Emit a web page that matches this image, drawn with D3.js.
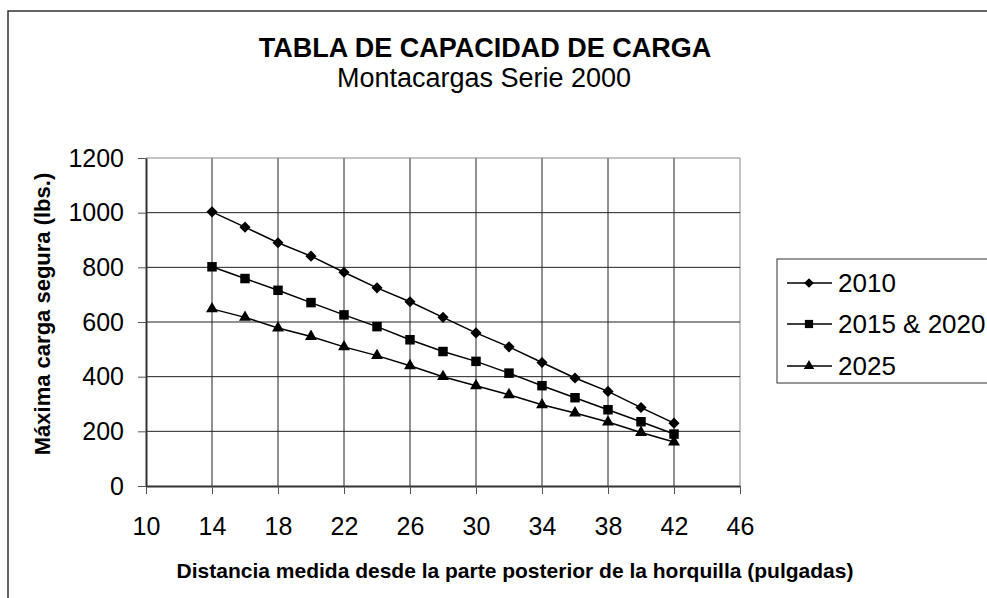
<!doctype html>
<html lang="es">
    <head>
        <meta charset="utf-8">
        <title>Tabla de capacidad de carga</title>
        <script src="https://cdn.jsdelivr.net/npm/d3@7"></script>
        <style>
            body { margin: 0; background: #fff; }
            text { font-family: "Liberation Sans", Arial, sans-serif; fill: #000; }
        </style>
    </head>
    <body>
        <div id="chart"></div>

        <script type="text/javascript">

            // distancias (pulgadas)
            var distancias = [14, 16, 18, 20, 22, 24, 26, 28, 30, 32, 34, 36, 38, 40, 42];

            // carga maxima por modelo (lbs.)
            var carga2010 = [1003, 947, 890, 841, 782, 725, 674, 617, 560, 509, 452, 395, 346, 287, 230];
            var carga2015 = [802, 759, 716, 671, 626, 583, 535, 492, 456, 413, 367, 323, 279, 235, 190];
            var carga2025 = [648, 617, 578, 547, 509, 477, 440, 400, 367, 334, 297, 267, 234, 196, 161];

            var seriesNames = ["2010", "2015 & 2020", "2025"];
            var xTicks = [10, 14, 18, 22, 26, 30, 34, 38, 42, 46];
            var yTicks = [0, 200, 400, 600, 800, 1000, 1200];

            // d3 diamond is too narrow, a square turned 45 deg looks like the original
            var series = [
                { name: seriesNames[0], values: carga2010, symbol: d3.symbolSquare, size: 62, rot: 45 },
                { name: seriesNames[1], values: carga2015, symbol: d3.symbolSquare, size: 90, rot: 0 },
                { name: seriesNames[2], values: carga2025, symbol: d3.symbolTriangle, size: 62, rot: 0 }
            ];

            var width = 987, height = 598;
            var plot = { left: 146, right: 740, top: 158, bottom: 486 };

            var svg = d3.select("#chart").append("svg")
                .attr("width", width)
                .attr("height", height);

            svg.append("rect")
                .attr("width", width).attr("height", height)
                .attr("fill", "#fff");

            // borde exterior
            svg.append("rect")
                .attr("x", 8).attr("y", 11)
                .attr("width", 990).attr("height", 600)
                .attr("fill", "none")
                .attr("stroke", "#333")
                .attr("stroke-width", 1.5);

            var x = d3.scaleLinear().domain([10, 46]).range([plot.left, plot.right]);
            var y = d3.scaleLinear().domain([0, 1200]).range([plot.bottom, plot.top]);

            // grid
            svg.append("g")
                .selectAll("line")
                .data(xTicks.slice(1))
                .enter().append("line")
                .attr("x1", function(d) { return x(d); })
                .attr("x2", function(d) { return x(d); })
                .attr("y1", plot.top).attr("y2", plot.bottom)
                .attr("stroke", function(d) { return d === 46 ? "#888" : "#222"; })
                .attr("stroke-width", 1);

            svg.append("g")
                .selectAll("line")
                .data(yTicks.slice(1))
                .enter().append("line")
                .attr("x1", plot.left).attr("x2", plot.right)
                .attr("y1", function(d) { return y(d); })
                .attr("y2", function(d) { return y(d); })
                .attr("stroke", function(d) { return d === 1200 ? "#888" : "#222"; })
                .attr("stroke-width", 1);

            // ejes
            var xAxis = svg.append("g")
                .attr("transform", "translate(0," + plot.bottom + ")")
                .call(d3.axisBottom(x).tickValues(xTicks).tickFormat(d3.format("d"))
                    .tickSizeInner(8).tickSizeOuter(0).tickPadding(23));

            var yAxis = svg.append("g")
                .attr("transform", "translate(" + plot.left + ",0)")
                .call(d3.axisLeft(y).tickValues(yTicks).tickFormat(d3.format("d"))
                    .tickSizeInner(8).tickSizeOuter(0).tickPadding(14));

            [xAxis, yAxis].forEach(function(a) {
                a.select(".domain").attr("stroke", "#333").attr("stroke-width", 2);
                a.selectAll(".tick line").attr("stroke", "#555");
                a.selectAll(".tick text")
                    .style("font-family", "'Liberation Sans', Arial, sans-serif")
                    .style("font-size", "25px")
                    .attr("fill", "#000");
            });

            // lineas y marcadores
            var line = d3.line()
                .x(function(d, i) { return x(distancias[i]); })
                .y(function(d) { return y(d); });

            series.forEach(function(s) {
                svg.append("path")
                    .attr("d", line(s.values))
                    .attr("fill", "none")
                    .attr("stroke", "#000")
                    .attr("stroke-width", 1.5);

                svg.append("g")
                    .selectAll("path")
                    .data(s.values)
                    .enter().append("path")
                    .attr("d", d3.symbol().type(s.symbol).size(s.size))
                    .attr("transform", function(d, i) {
                        return "translate(" + x(distancias[i]) + "," + y(d) + ") rotate(" + s.rot + ")";
                    })
                    .attr("fill", "#000");
            });

            // titulos
            svg.append("text")
                .attr("x", 485).attr("y", 57)
                .attr("text-anchor", "middle")
                .style("font-size", "27px").style("font-weight", "bold")
                .text("TABLA DE CAPACIDAD DE CARGA");

            svg.append("text")
                .attr("x", 484).attr("y", 87)
                .attr("text-anchor", "middle")
                .style("font-size", "27px")
                .text("Montacargas Serie 2000");

            svg.append("text")
                .attr("x", 515).attr("y", 578)
                .attr("text-anchor", "middle")
                .style("font-size", "21px").style("font-weight", "bold")
                .text("Distancia medida desde la parte posterior de la horquilla (pulgadas)");

            svg.append("text")
                .attr("transform", "translate(50,314) rotate(-90)")
                .attr("text-anchor", "middle")
                .style("font-size", "22px").style("font-weight", "bold")
                .text("Máxima carga segura (lbs.)");

            // leyenda
            svg.append("rect")
                .attr("x", 777).attr("y", 259)
                .attr("width", 230).attr("height", 124)
                .attr("fill", "#fff")
                .attr("stroke", "#333")
                .attr("stroke-width", 1);

            var rowsY = [283, 324, 366];
            series.forEach(function(s, i) {
                var g = svg.append("g").attr("transform", "translate(0," + rowsY[i] + ")");
                g.append("line")
                    .attr("x1", 787).attr("x2", 832)
                    .attr("stroke", "#000").attr("stroke-width", 1.5);
                g.append("path")
                    .attr("d", d3.symbol().type(s.symbol).size(s.size * 0.75))
                    .attr("transform", "translate(809,0) rotate(" + s.rot + ")")
                    .attr("fill", "#000");
                g.append("text")
                    .attr("x", 838).attr("y", 9)
                    .style("font-size", "26px")
                    .text(s.name);
            });
        </script>
    </body>
</html>
